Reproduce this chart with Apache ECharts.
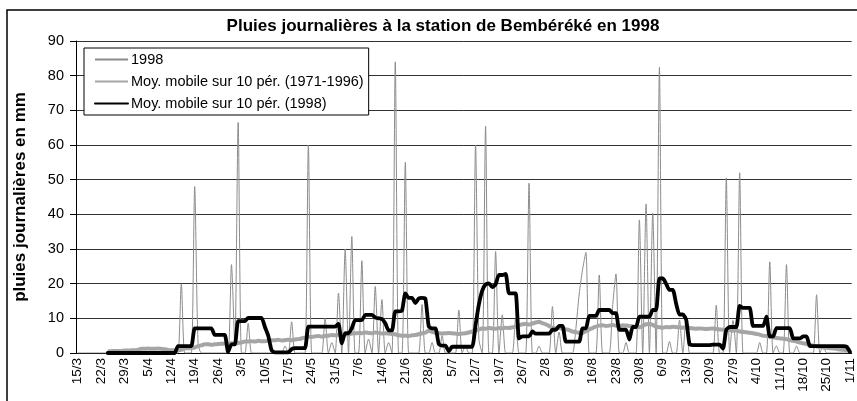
<!DOCTYPE html>
<html>
<head>
<meta charset="utf-8">
<script src="https://cdn.jsdelivr.net/npm/echarts@6/dist/echarts.min.js"></script>
<style>
  html, body { margin: 0; padding: 0; background: #fff; }
  #chart { width: 857px; height: 401px; }
</style>
</head>
<body>
<div id="chart"></div>
<script>
// jours du 15/3 au 1/11/1998
const jours = [];
for (let i = 0; i < 232; i++) {
  const d = new Date(1998, 2, 15 + i);
  jours.push(d.getDate() + '/' + (d.getMonth() + 1));
}

// pluies journalières 1998 (mm), 14 jours par ligne
const pluie1998 = [
  0, 0, 0, 0, 0, 0, 0, 0, 0, 0, 0, 0, 0, 0,
  0, 0, 0, 0, 0, 0, 0, 0, 0, 0, 0, 0, 0, 0,
  0, 0, 0, 20, 0, 0, 0, 48, 3, 0, 0, 0, 0, 0,
  0, 0, 0, 0, 25.5, 2, 66.5, 0, 0, 8.6, 0, 0, 0, 0,
  0, 0, 0, 0, 0, 0, 2, 0, 9, 0, 0, 0, 0, 60,
  0, 0, 0, 0, 10, 0, 3, 0, 17.3, 0, 30, 0, 33.6, 0,
  0, 26.6, 0, 4, 0, 19.2, 0, 15.4, 0, 3, 0, 84, 0, 0,
  55, 0, 0, 0, 0, 14, 0, 0, 3, 0, 0, 5, 0, 0,
  0, 0, 12.4, 0, 2, 0, 0, 60, 4, 0, 65.4, 0, 0, 29.3,
  0, 11, 0, 0, 0, 10, 0, 0, 0, 49, 0, 0, 2, 0,
  0, 0, 13.4, 0, 6, 0, 0, 0, 0, 7, 17, 24, 29, 0,
  0, 0, 22.5, 0, 0, 0, 13.5, 22.8, 0, 0, 3, 0, 0, 0,
  38.4, 0, 43, 0, 40.3, 0, 82.4, 0, 0, 3.3, 0, 0, 9.5, 0,
  10.5, 0, 0, 0, 0, 0, 0, 0, 0, 13.8, 0, 0, 50.5, 0,
  9.4, 0, 52, 0, 0, 0, 0, 0, 3, 0, 0, 26.3, 0, 2,
  0, 0, 25.5, 0, 0, 2, 0, 0, 0, 0, 0, 16.8, 0, 2,
  0, 0, 0, 0, 0, 0, 0, 0
];

// moyenne mobile sur 10 périodes (1971-1996)
const moyNormale = [
  null, null, null, null, null, null, null, null, null, 0.5, 0.5, 0.6, 0.6, 0.6,
  0.7, 0.7, 0.8, 0.8, 0.9, 1.2, 1.2, 1.3, 1.2, 1.2, 1.3, 1.2, 1.1, 0.9,
  0.8, 0.8, 0.8, 0.9, 1.4, 1.4, 1.5, 1.6, 2, 2.2, 2.5, 2.5, 2.4, 2.5,
  2.6, 2.7, 2.7, 2.6, 2.8, 2.7, 2.9, 3, 3.3, 3.3, 3.4, 3.3, 3.5, 3.4,
  3.4, 3.5, 3.7, 3.7, 3.8, 3.6, 3.7, 3.8, 3.7, 3.9, 4, 4.2, 4.5, 4.7,
  4.6, 4.8, 4.9, 4.7, 4.9, 5, 5.2, 5.1, 5.3, 5.2, 5.3, 5.4, 5.6, 5.7,
  5.8, 5.7, 5.9, 5.8, 5.7, 5.9, 5.8, 5.6, 5.7, 5.6, 5.5, 5.4, 5.1, 5,
  5, 4.9, 5.1, 5.2, 5.4, 5.7, 5.9, 6.4, 6.1, 5.8, 5.7, 5.6, 5.7, 5.8,
  5.7, 5.6, 5.5, 5.6, 5.7, 5.9, 6.2, 6.4, 6.8, 7.1, 7, 7.2, 7.1, 7,
  7.2, 7.1, 7.3, 7.2, 7.4, 7.6, 8, 8.3, 8.4, 8.2, 8.5, 8.8, 9, 8.6,
  8.3, 7.8, 7.3, 7.1, 7.2, 7, 6.8, 6.6, 6.2, 6, 5.8, 5.8, 6.3, 6.8,
  7.2, 7.6, 7.9, 8, 7.8, 7.9, 8.1, 7.9, 7.8, 8, 7.9, 7.8, 7.7, 7.5,
  7.4, 7.8, 8.3, 8.4, 8.1, 7.6, 7.4, 7.3, 7.5, 7.4, 7.6, 7.5, 7.4, 7.3,
  7.4, 7.2, 7.1, 7, 7.1, 7, 6.9, 7, 7.1, 6.9, 6.8, 6.7, 6.6, 6.6,
  6.4, 6.5, 6.2, 6.1, 6, 5.8, 5.7, 5.5, 5.3, 5, 4.9, 4.7, 4.5, 4.3,
  4.2, 4.1, 4, 3.7, 3.5, 3.3, 3, 2.8, 2.6, 2.3, 2.1, 1.9, 1.8, 1.6,
  1.5, 1.4, 1.3, 1.2, 1, 0.9, 0.8, 0.7
];

// moyenne mobile sur 10 périodes (1998)
const moy1998 = [
  null, null, null, null, null, null, null, null, null, 0, 0, 0, 0, 0,
  0, 0, 0, 0, 0, 0, 0, 0, 0, 0, 0, 0, 0, 0,
  0, 0, 2, 2, 2, 2, 2, 7.1, 7.1, 7.1, 7.1, 7.1, 7.1, 5.2,
  5.2, 5.2, 5.2, 0.3, 2.5, 2.5, 9.2, 9.2, 9.2, 10.1, 10.1, 10.1, 10.1, 10.1,
  7.5, 5, 0.8, 0.2, 0.2, 0.2, 0.2, 0.2, 1.1, 1.4, 1.4, 1.4, 1.4, 7.6,
  7.6, 7.6, 7.6, 7.6, 7.6, 7.6, 7.6, 7.6, 8.4, 2.8, 5.7, 5.7, 7.2, 9.5,
  9.5, 9.5, 11, 11, 11, 10.2, 10, 9.8, 8.6, 6.5, 6.5, 12, 12, 12.2,
  17.2, 15.9, 15.9, 14.4, 15.7, 15.9, 15.7, 7.7, 7.1, 7.1, 2.6, 2.1, 2.1, 0.5,
  1.8, 1.8, 1.8, 1.8, 1.8, 1.8, 1.8, 8, 14, 18, 19.8, 20.1, 19, 19.8,
  22.5, 22.5, 22.8, 17.2, 17.2, 17.2, 4.2, 4.8, 4.8, 4.8, 6.2, 5.6, 5.6, 5.6,
  5.6, 5.6, 6.7, 6.7, 7.8, 7.8, 3.3, 3.3, 3.3, 3.3, 3.3, 7.1, 7.1, 10.7,
  10.7, 10.7, 12.4, 12.4, 12.4, 12.4, 11.5, 11.5, 6.7, 6.7, 6.7, 3.9, 7.5, 7.5,
  10.5, 10.5, 10.5, 10.5, 12.4, 12.4, 21.5, 21.5, 20, 18.2, 18.2, 14.2, 11.1, 11.1,
  9.6, 2.5, 2.3, 2.3, 2.3, 2.3, 2.3, 2.3, 2.4, 2.4, 2.4, 1.3, 6.7, 7.5,
  7.5, 7.5, 13.6, 13, 13, 13, 7.8, 7.8, 7.8, 7.8, 10.5, 4.8, 4.8, 7.2,
  7.2, 7.2, 7.2, 7.2, 4.2, 4.2, 4.2, 4.8, 4.8, 2, 2, 2, 2, 2,
  2, 2, 2, 2, 2, 2, 1.8, 0.3
];

const police = "'Liberation Sans', Arial, sans-serif";

const chart = echarts.init(document.getElementById('chart'), null, { renderer: 'canvas' });

const option = {
  animation: false,
  backgroundColor: '#fff',
  title: {
    text: 'Pluies journalières à la station de Bembéréké en 1998',
    left: 438,
    textAlign: 'center',
    top: 13,
    textStyle: {
      color: '#000',
      fontSize: 17,
      fontWeight: 'bold',
      fontFamily: police
    }
  },
  // cadre du graphique (coupé à droite et en bas)
  graphic: [{
    type: 'rect',
    shape: { x: 7, y: 10, width: 900, height: 450 },
    style: { fill: 'none', stroke: '#000', lineWidth: 1.5 },
    silent: true
  }],
  legend: {
    orient: 'vertical',
    left: 84,
    top: 48,
    padding: [4, 5, 4, 10],
    itemWidth: 33,
    itemHeight: 14,
    itemGap: 7,
    backgroundColor: '#fff',
    borderColor: '#000',
    borderWidth: 1,
    itemStyle: { opacity: 0 },
    textStyle: { color: '#000', fontSize: 14.5, fontFamily: police, padding: [0, 0, 0, -2] },
    data: ['1998', 'Moy. mobile sur 10 pér. (1971-1996)', 'Moy. mobile sur 10 pér. (1998)']
  },
  grid: {
    left: 76,
    right: 2,
    top: 41,
    bottom: 48
  },
  xAxis: {
    type: 'category',
    data: jours,
    boundaryGap: true,
    axisLine: { lineStyle: { color: '#000', width: 1 } },
    axisTick: {
      interval: 6,
      alignWithLabel: true,
      length: 5,
      lineStyle: { color: '#000' }
    },
    axisLabel: {
      interval: 6,
      rotate: 90,
      margin: 5,
      color: '#000',
      fontSize: 13.5,
      fontFamily: police
    },
    splitLine: { show: false }
  },
  yAxis: {
    type: 'value',
    min: 0,
    max: 90,
    interval: 10,
    name: 'pluies journalières en mm',
    nameLocation: 'middle',
    nameRotate: 90,
    nameGap: 47,
    nameTextStyle: {
      color: '#000',
      fontSize: 17,
      fontWeight: 'bold',
      fontFamily: police
    },
    axisLine: { show: true, lineStyle: { color: '#000', width: 1 } },
    axisTick: { show: true, length: 6, lineStyle: { color: '#000' } },
    axisLabel: {
      margin: 12,
      color: '#000',
      fontSize: 14.5,
      fontFamily: police
    },
    splitLine: { lineStyle: { color: '#333', width: 1 } }
  },
  series: [{
    name: '1998',
    type: 'line',
    data: pluie1998,
    symbol: 'none',
    smooth: 0.25,
    lineStyle: { color: '#8c8c8c', width: 1 },
    itemStyle: { color: '#8c8c8c' },
    z: 2
  }, {
    name: 'Moy. mobile sur 10 pér. (1971-1996)',
    type: 'line',
    data: moyNormale,
    symbol: 'none',
    smooth: 0.2,
    lineStyle: { color: '#a5a5a5', width: 4 },
    itemStyle: { color: '#a5a5a5' },
    z: 3
  }, {
    name: 'Moy. mobile sur 10 pér. (1998)',
    type: 'line',
    data: moy1998,
    symbol: 'none',
    smooth: 0.2,
    lineStyle: { color: '#000', width: 3.8, join: 'round', cap: 'round' },
    itemStyle: { color: '#000' },
    z: 4
  }]
};

chart.setOption(option);
</script>
</body>
</html>
